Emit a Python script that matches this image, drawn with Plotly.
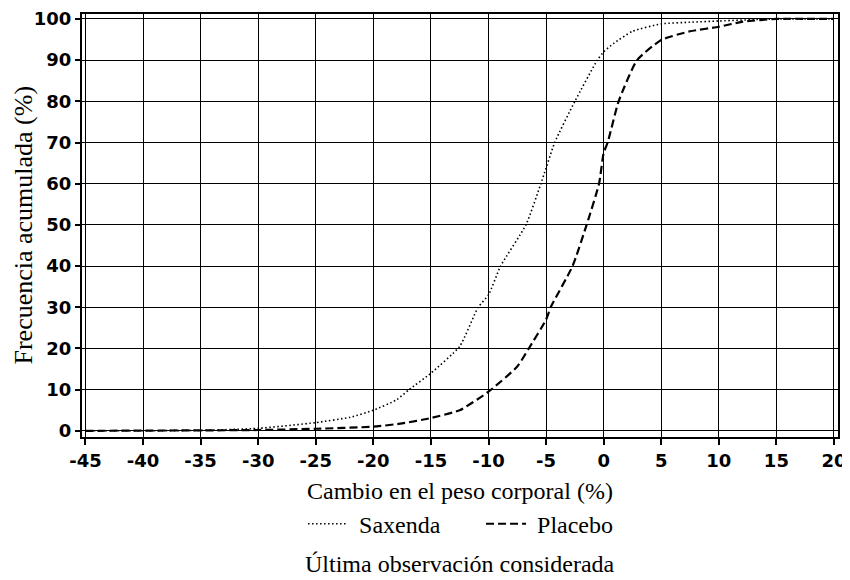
import plotly.graph_objects as go

# Data (cumulative frequency, %)
saxenda_x = [-45, -35, -30, -25, -22, -20, -18, -16.9, -15, -12.5, -10.9, -10, -8.95,
             -6.75, -5.45, -4.25, -2.5, -0.55, 0, 0.84, 2.5, 5, 7.5, 10, 15, 20]
saxenda_y = [0, 0.1, 0.6, 2, 3.3, 5, 7.5, 10, 14, 20.5, 30, 33, 40,
             50, 60, 70, 80, 90, 92, 94, 97, 98.8, 99.2, 99.5, 100, 100]

placebo_x = [-45, -30, -25, -20, -17.5, -15, -12.5, -10, -7.5, -6.5, -5, -4.6, -2.7,
             -1.48, -0.4, 0, 0.35, 1.3, 2.9, 5, 7.5, 10, 12, 15, 20]
placebo_y = [0, 0.2, 0.5, 1, 1.8, 3.1, 5, 9.5, 15.6, 20, 27, 30, 40,
             50, 60, 67.5, 70, 80, 90, 94.9, 97, 98.1, 99.3, 100, 100]

x_ticks = [-45, -40, -35, -30, -25, -20, -15, -10, -5, 0, 5, 10, 15, 20]
y_ticks = [0, 10, 20, 30, 40, 50, 60, 70, 80, 90, 100]

series_names = ["Saxenda", "Placebo"]
x_title = "Cambio en el peso corporal (%)"
y_title = "Frecuencia acumulada (%)"
footnote = "Última observación considerada"

serif = "Liberation Serif, Times New Roman, serif"
sans = "DejaVu Sans, Verdana, sans-serif"

fig = go.Figure()
fig.add_trace(go.Scatter(
    x=saxenda_x, y=saxenda_y, mode="lines", name="\u00a0" + series_names[0],
    line=dict(color="black", width=1.6, dash="1.5px,2.5px", shape="spline", smoothing=0.5),
))
fig.add_trace(go.Scatter(
    x=placebo_x, y=placebo_y, mode="lines", name="\u00a0" + series_names[1],
    line=dict(color="black", width=2.2, dash="8px,4px", shape="spline", smoothing=0.5),
))

# The page body adds an 8px offset, so the figure is sized to fill the rest of the window.
fig.update_layout(
    width=842, height=572,
    margin=dict(l=74, r=12, t=6, b=143, autoexpand=False),
    paper_bgcolor="white", plot_bgcolor="white",
    font=dict(family=serif, size=24, color="black"),
    showlegend=True,
    legend=dict(orientation="h", x=0.2924, xanchor="left", y=-0.206, yanchor="middle",
                font=dict(family=serif, size=24, color="black"),
                itemwidth=40, traceorder="normal",
                entrywidth=123, entrywidthmode="pixels"),
    annotations=[
        dict(text=x_title, xref="paper", yref="paper", x=0.5, y=-0.128,
             xanchor="center", yanchor="middle", showarrow=False,
             font=dict(family=serif, size=24, color="black")),
        dict(text=y_title, xref="paper", yref="paper", x=-0.078, y=0.5, textangle=-90,
             xanchor="center", yanchor="middle", showarrow=False,
             font=dict(family=serif, size=26, color="black")),
        dict(text=footnote, xref="paper", yref="paper", x=0.5, y=-0.300,
             xanchor="center", yanchor="middle", showarrow=False,
             font=dict(family=serif, size=24, color="black")),
    ],
)

fig.update_xaxes(
    range=[-45.3, 20.35], tickvals=x_ticks, ticktext=[str(v) for v in x_ticks],
    tickfont=dict(family=sans, size=18, color="black", weight="bold"),
    showgrid=True, gridcolor="black", gridwidth=1.3,
    showline=True, linecolor="black", linewidth=2, mirror=True,
    ticks="outside", ticklen=6, tickwidth=1.5, tickcolor="black",
    zeroline=False, automargin=False,
)
fig.update_yaxes(
    range=[-1.5, 101.2], tickvals=y_ticks, ticktext=[str(v) for v in y_ticks],
    tickfont=dict(family=sans, size=18, color="black", weight="bold"),
    showgrid=True, gridcolor="black", gridwidth=1.3,
    showline=True, linecolor="black", linewidth=2, mirror=True,
    ticks="outside", ticklen=5, tickwidth=1.5, tickcolor="black",
    zeroline=False, automargin=False,
)

fig.write_html("out.html")
